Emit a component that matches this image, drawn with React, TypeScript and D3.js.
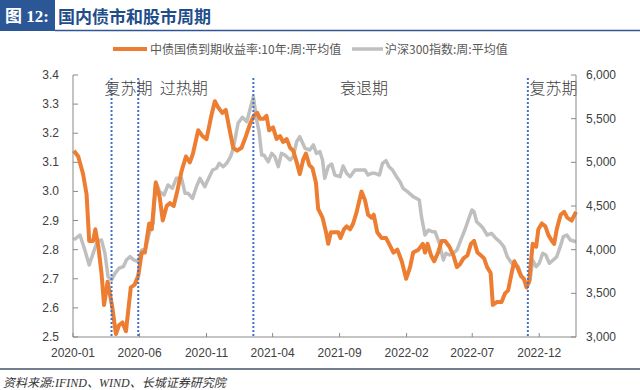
import React from "react";
import * as d3 from "d3";

const bondDates = ["2020-01-03","2020-01-13","2020-01-24","2020-02-01","2020-02-07","2020-02-16","2020-02-21","2020-02-28","2020-03-06","2020-03-12","2020-03-20","2020-03-25","2020-03-31","2020-04-08","2020-04-15","2020-04-23","2020-05-01","2020-05-12","2020-05-21","2020-05-29","2020-06-06","2020-06-13","2020-06-23","2020-06-29","2020-07-08","2020-07-17","2020-07-24","2020-08-02","2020-08-09","2020-08-18","2020-08-26","2020-09-05","2020-09-15","2020-09-24","2020-10-01","2020-10-13","2020-10-23","2020-11-01","2020-11-12","2020-11-20","2020-11-27","2020-12-07","2020-12-15","2020-12-24","2021-01-01","2021-01-10","2021-01-20","2021-01-30","2021-02-08","2021-02-17","2021-02-25","2021-03-03","2021-03-12","2021-03-18","2021-03-24","2021-04-02","2021-04-10","2021-04-18","2021-04-25","2021-05-03","2021-05-11","2021-05-18","2021-05-26","2021-06-02","2021-06-10","2021-06-16","2021-06-24","2021-07-01","2021-07-09","2021-07-14","2021-07-24","2021-08-01","2021-08-06","2021-08-12","2021-08-21","2021-08-29","2021-09-03","2021-09-11","2021-09-17","2021-09-25","2021-10-02","2021-10-10","2021-10-21","2021-10-29","2021-11-05","2021-11-13","2021-11-18","2021-11-26","2021-12-06","2021-12-16","2021-12-23","2022-01-02","2022-01-11","2022-01-21","2022-01-31","2022-02-09","2022-02-16","2022-02-28","2022-03-10","2022-03-15","2022-03-21","2022-03-29","2022-04-05","2022-04-14","2022-04-22","2022-04-30","2022-05-10","2022-05-19","2022-05-27","2022-06-03","2022-06-11","2022-06-20","2022-06-28","2022-07-05","2022-07-13","2022-07-21","2022-07-28","2022-08-04","2022-08-12","2022-08-17","2022-08-26","2022-09-06","2022-09-14","2022-09-21","2022-09-29","2022-10-05","2022-10-12","2022-10-20","2022-10-27","2022-11-02","2022-11-08","2022-11-16","2022-11-24","2022-11-29","2022-12-07","2022-12-15","2022-12-22","2022-12-30","2023-01-04","2023-01-10","2023-01-19","2023-01-27","2023-02-03","2023-02-13","2023-02-23"];
const bondYield = [3.14,3.12,3.06,2.99,2.83,2.83,2.87,2.81,2.72,2.61,2.69,2.65,2.60,2.51,2.54,2.55,2.52,2.67,2.68,2.71,2.79,2.79,2.89,2.87,3.03,2.98,2.90,2.95,2.96,2.95,3.00,3.07,3.12,3.10,3.13,3.21,3.19,3.18,3.26,3.31,3.29,3.27,3.28,3.21,3.15,3.14,3.15,3.19,3.23,3.26,3.27,3.25,3.25,3.26,3.21,3.22,3.18,3.19,3.17,3.18,3.15,3.14,3.10,3.06,3.11,3.13,3.09,3.08,3.03,2.94,2.91,2.86,2.82,2.86,2.86,2.86,2.84,2.87,2.88,2.87,2.89,2.93,3.00,2.97,2.92,2.91,2.92,2.86,2.84,2.84,2.82,2.79,2.80,2.76,2.70,2.74,2.79,2.80,2.82,2.79,2.82,2.78,2.76,2.79,2.83,2.83,2.81,2.78,2.74,2.75,2.77,2.78,2.82,2.83,2.79,2.78,2.77,2.74,2.72,2.61,2.62,2.62,2.65,2.66,2.72,2.76,2.74,2.71,2.70,2.67,2.69,2.82,2.81,2.87,2.89,2.88,2.85,2.83,2.82,2.87,2.92,2.93,2.91,2.90,2.93];

const hsDates = ["2020-01-03","2020-01-17","2020-01-28","2020-02-07","2020-02-16","2020-02-25","2020-03-06","2020-03-14","2020-03-21","2020-03-29","2020-04-06","2020-04-15","2020-04-25","2020-05-02","2020-05-10","2020-05-19","2020-05-29","2020-06-06","2020-06-15","2020-06-25","2020-07-02","2020-07-08","2020-07-17","2020-07-27","2020-08-05","2020-08-15","2020-08-24","2020-09-05","2020-09-13","2020-09-20","2020-09-30","2020-10-09","2020-10-17","2020-10-28","2020-11-04","2020-11-15","2020-11-24","2020-11-30","2020-12-09","2020-12-17","2020-12-26","2021-01-02","2021-01-12","2021-01-22","2021-02-01","2021-02-08","2021-02-16","2021-02-23","2021-03-01","2021-03-07","2021-03-12","2021-03-22","2021-03-30","2021-04-06","2021-04-14","2021-04-21","2021-04-29","2021-05-11","2021-05-18","2021-05-26","2021-06-02","2021-06-14","2021-06-25","2021-07-03","2021-07-10","2021-07-18","2021-07-24","2021-07-29","2021-08-06","2021-08-14","2021-08-21","2021-09-02","2021-09-09","2021-09-17","2021-09-25","2021-10-06","2021-10-18","2021-10-29","2021-11-05","2021-11-13","2021-11-21","2021-12-01","2021-12-08","2021-12-16","2021-12-23","2021-12-31","2022-01-09","2022-01-17","2022-01-24","2022-02-03","2022-02-16","2022-03-02","2022-03-07","2022-03-15","2022-03-23","2022-03-31","2022-04-07","2022-04-17","2022-04-26","2022-05-02","2022-05-10","2022-05-19","2022-05-27","2022-06-05","2022-06-14","2022-06-22","2022-06-30","2022-07-05","2022-07-11","2022-07-19","2022-07-26","2022-08-04","2022-08-14","2022-08-24","2022-09-02","2022-09-11","2022-09-19","2022-09-29","2022-10-07","2022-10-14","2022-10-22","2022-10-30","2022-11-05","2022-11-10","2022-11-16","2022-11-24","2022-12-01","2022-12-09","2022-12-16","2022-12-24","2023-01-02","2023-01-10","2023-01-18","2023-01-25","2023-02-02","2023-02-10","2023-02-23"];
const hsValues = [4111,4168,3996,3825,3958,4091,4111,3958,3691,3653,3729,3787,3805,3882,3920,3882,3863,3996,4015,4225,4301,4778,4664,4626,4741,4703,4817,4817,4645,4645,4588,4721,4817,4721,4798,4912,4932,4989,4950,4989,5065,5179,5447,5516,5465,5599,5752,5504,5351,5084,5084,5007,5103,5065,4950,5103,5084,5027,5065,5237,5294,5161,5141,5199,5103,5122,5027,4817,4950,4981,4855,4836,4958,4874,4836,4912,4912,4912,4855,4874,4874,4855,4989,5019,4950,4912,4836,4778,4703,4664,4607,4569,4378,4168,4225,4206,4206,4073,3882,3958,3939,3958,3996,4111,4225,4340,4454,4435,4320,4282,4245,4168,4187,4130,4091,4034,3920,3844,3825,3805,3691,3634,3615,3653,3882,3805,3844,3958,3939,3844,3882,3920,4034,4149,4168,4111,4091];

const xTickLabels = ["2020-01","2020-06","2020-11","2021-04","2021-09","2022-02","2022-07","2022-12"];
const leftTicks = [2.5,2.6,2.7,2.8,2.9,3.0,3.1,3.2,3.3,3.4];
const rightTicks = [3000,3500,4000,4500,5000,5500,6000];
const phaseLineDates = ["2020-03-29","2020-05-29","2021-02-16","2022-11-05"];
const phaseLabels = [
  { text: "复苏期", date: "2020-03-13" },
  { text: "过热期", date: "2020-07-17" },
  { text: "衰退期", date: "2021-09-02" },
  { text: "复苏期", date: "2022-11-09" },
];
const legendNames = ["中债国债到期收益率:10年:周:平均值", "沪深300指数:周:平均值"];

const parse = (s: string) => {
  const [y, m, d] = s.split("-").map(Number);
  return new Date(y, m - 1, d || 1);
};

export default function App() {
  const L = 73, R = 576, T = 75, B = 337;
  const x = d3.scaleTime().domain([new Date(2020, 0, 1), new Date(2023, 1, 23)]).range([L, R]);
  const yL = d3.scaleLinear().domain([2.5, 3.4]).range([B, T]);
  const yR = d3.scaleLinear().domain([3000, 6000]).range([B, T]);

  const bond = bondDates.map((d, i) => ({ d: parse(d), v: bondYield[i] }));
  const hs = hsDates.map((d, i) => ({ d: parse(d), v: hsValues[i] }));
  const bondLine = d3.line<{ d: Date; v: number }>().x(p => x(p.d)).y(p => yL(p.v));
  const hsLine = d3.line<{ d: Date; v: number }>().x(p => x(p.d)).y(p => yR(p.v));

  const axisColor = "#898989";
  const textColor = "#404040";
  const latin = "'Liberation Sans', Arial, sans-serif";
  const cjk = "'Noto Sans CJK SC', 'Noto Sans', sans-serif";

  return (
    <svg width={640} height={390} style={{ position: "absolute", left: 0, top: 0, background: "#fff" }}>
      <rect x={0} y={0} width={640} height={390} fill="#fff" />
      {/* title */}
      <rect x={0} y={0} width={55} height={31} fill="#2B5797" />
      <text x={5} y={22} fill="#fff" fontSize={17} fontWeight="bold" fontFamily={"'Liberation Serif','Noto Sans CJK SC'"}>图 12:</text>
      <text x={58} y={23} fill="#1F4E8C" fontSize={17} fontWeight="bold" fontFamily={cjk}>国内债市和股市周期</text>
      <line x1={55} x2={640} y1={30.5} y2={30.5} stroke="#2F5597" strokeWidth={1.5} />

      {/* legend */}
      <line x1={113} x2={147} y1={49} y2={49} stroke="#ED7D31" strokeWidth={4} />
      <text x={150} y={53.5} fontSize={12} fill="#595959" fontFamily={cjk}>{legendNames[0]}</text>
      <line x1={352} x2={383} y1={49} y2={49} stroke="#BFBFBF" strokeWidth={3.5} />
      <text x={385} y={53.5} fontSize={12} fill="#595959" fontFamily={cjk}>{legendNames[1]}</text>

      {/* series */}
      <path d={hsLine(hs) || ""} fill="none" stroke="#BFBFBF" strokeWidth={3.5} strokeLinejoin="round" />
      <path d={bondLine(bond) || ""} fill="none" stroke="#ED7D31" strokeWidth={4} strokeLinejoin="round" />

      {/* phase lines */}
      {phaseLineDates.map((d, i) => (
        <line key={i} x1={x(parse(d))} x2={x(parse(d))} y1={78} y2={B} stroke="#4472C4" strokeWidth={2} strokeDasharray="2 2" />
      ))}
      {phaseLabels.map((p, i) => (
        <text key={i} x={x(parse(p.date))} y={94} fontSize={16} fill={textColor} fontFamily={cjk} fontWeight={300}>{p.text}</text>
      ))}

      {/* axes */}
      <line x1={L} x2={L} y1={T} y2={B} stroke={axisColor} strokeWidth={1} />
      <line x1={R} x2={R} y1={T} y2={B} stroke={axisColor} strokeWidth={1} />
      <line x1={L} x2={R} y1={B} y2={B} stroke={axisColor} strokeWidth={1} />
      {leftTicks.map(t => (
        <g key={t}>
          <line x1={L} x2={L + 5} y1={yL(t)} y2={yL(t)} stroke={axisColor} />
          <text x={59} y={yL(t) + 4} textAnchor="end" fontSize={12} fill={textColor} fontFamily={latin}>{t.toFixed(1)}</text>
        </g>
      ))}
      {rightTicks.map(t => (
        <g key={t}>
          <line x1={R - 5} x2={R} y1={yR(t)} y2={yR(t)} stroke={axisColor} />
          <text x={586} y={yR(t) + 4} fontSize={12} fill={textColor} fontFamily={latin}>{d3.format(",")(t)}</text>
        </g>
      ))}
      {xTickLabels.map(t => (
        <g key={t}>
          <line x1={x(parse(t))} x2={x(parse(t))} y1={B} y2={B - 4} stroke={axisColor} />
          <text x={x(parse(t))} y={357} textAnchor="middle" fontSize={12} fill={textColor} fontFamily={latin}>{t}</text>
        </g>
      ))}

      {/* footer */}
      <line x1={0} x2={640} y1={369} y2={369} stroke="#44546A" strokeWidth={1.5} />
      <text x={3} y={387} fontSize={12} fill="#333" fontStyle="italic" fontFamily={"'Liberation Serif','Noto Sans CJK SC'"}>资料来源:IFIND、WIND、长城证券研究院</text>
    </svg>
  );
}
